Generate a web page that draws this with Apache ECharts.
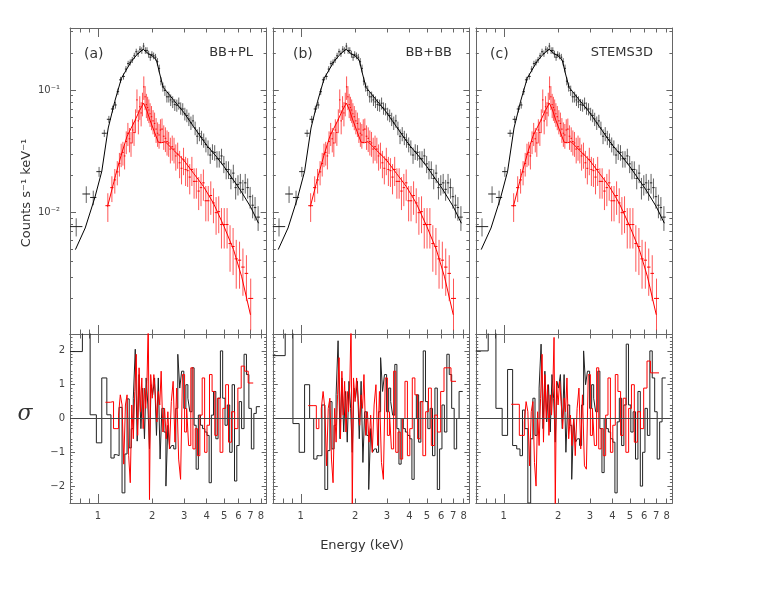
<!DOCTYPE html>
<html>
<head>
<meta charset="utf-8">
<script src="https://cdn.jsdelivr.net/npm/echarts@6/dist/echarts.min.js"></script>
<style>html,body{margin:0;padding:0;background:#fff}#c{width:770px;height:595px}</style>
</head>
<body>
<div id="c"></div>
<script>
// ---------------- DATA ----------------
const panelLabels = ['(a)', '(b)', '(c)'];
const modelNames = ['BB+PL', 'BB+BB', 'STEMS3D'];
const xTickLabels = [1, 2, 3, 4, 5, 6, 7, 8];
const xMinorTicks = [0.7, 0.8, 0.9, 2, 3, 4, 5, 6, 7, 8];
const xMajorTicks = [1];
const yMajorTicks = [0.1, 0.01];
const yMinorTicks = [0.002,0.003,0.004,0.005,0.006,0.007,0.008,0.009,0.02,0.03,0.04,0.05,0.06,0.07,0.08,0.09,0.2,0.3];
const resTicks = [-2, -1, 0, 1, 2];

// black spectrum: bin edges (keV), rate, error (counts/s/keV)
const blackEdges = [0.70,0.82,0.905,0.98,1.05,1.12,1.18,1.23,1.27,1.31,1.36,1.41,1.45,1.49,1.53,1.57,1.61,1.65,1.69,1.73,
  1.77,1.81,1.85,1.89,1.93,1.97,2.01,2.06,2.11,2.16,2.21,2.26,2.32,2.38,2.44,2.50,2.56,2.63,2.70,2.77,
  2.84,2.91,2.99,3.07,3.15,3.23,3.32,3.41,3.50,3.60,3.70,3.80,3.91,4.02,4.13,4.25,4.37,4.50,4.63,4.77,
  4.91,5.06,5.21,5.37,5.54,5.71,5.88,6.06,6.25,6.45,6.65,6.86,7.08,7.31,7.54,7.90];
const blackRate = [0.0077,0.0142,0.0133,0.0216,0.0444,0.0577,0.0700,0.0755,0.0969,0.121,0.129,0.148,0.164,0.168,0.176,0.190,0.205,0.198,0.215,0.210,
  0.228,0.210,0.210,0.196,0.185,0.195,0.190,0.185,0.170,0.150,0.118,0.106,0.099,0.088,0.088,0.083,0.080,0.076,0.075,0.078,
  0.071,0.070,0.064,0.062,0.058,0.054,0.056,0.049,0.042,0.044,0.041,0.039,0.036,0.034,0.0295,0.0315,0.0310,0.0275,0.0275,0.0290,
  0.0250,0.0225,0.0225,0.0190,0.0210,0.0160,0.0170,0.0175,0.0155,0.0175,0.0160,0.0135,0.0115,0.0110,0.0092];
const blackErr = [0.0013,0.0022,0.0018,0.0020,0.0030,0.0038,0.0045,0.0050,0.0060,0.0070,
  0.0075,0.0085,0.0090,0.0095,0.010,0.011,0.012,0.012,0.013,0.013,
  0.014,0.013,0.013,0.013,0.012,0.012,0.012,0.012,0.012,0.011,
  0.009,0.009,0.0095,0.009,0.009,0.009,0.0088,0.0085,0.0085,0.0088,
  0.0082,0.0080,0.0076,0.0074,0.0072,0.0068,0.0068,0.0062,0.0058,0.0058,
  0.0055,0.0052,0.0050,0.0048,0.0045,0.0046,0.0045,0.0042,0.0042,0.0042,
  0.0040,0.0038,0.0037,0.0035,0.0036,0.0032,0.0032,0.0032,0.0030,0.0032,
  0.0030,0.0027,0.0025,0.0024,0.0021];

// red spectrum
const redEdges = [1.10,1.17,1.22,1.26,1.30,1.33,1.36,1.39,1.42,1.45,1.48,1.51,1.54,1.57,1.60,1.63,1.66,1.69,1.72,1.75,
  1.78,1.81,1.84,1.87,1.90,1.93,1.96,2.00,2.04,2.08,2.12,2.16,2.20,2.24,2.29,2.34,2.39,2.44,2.49,2.55,
  2.61,2.67,2.73,2.80,2.87,2.94,3.02,3.10,3.18,3.27,3.36,3.46,3.56,3.67,3.78,3.90,4.02,4.15,4.29,4.44,
  4.59,4.75,4.92,5.10,5.29,5.50,5.72,5.96,6.22,6.50,6.80,7.25];
const redRate = [0.0114,0.0160,0.0185,0.0215,0.0252,0.0300,0.0310,0.0290,0.0380,0.0444,0.0400,0.0370,0.0472,0.0450,0.0570,0.0830,0.0560,0.0730,0.0650,0.0780,
  0.1060,0.0880,0.0760,0.0720,0.0687,0.0640,0.0605,0.0560,0.0534,0.0480,0.0444,0.0430,0.0472,0.0480,0.0420,0.0404,0.0380,0.0370,0.0330,0.0345,
  0.0330,0.0290,0.0300,0.0255,0.0230,0.0270,0.0225,0.0220,0.0195,0.0225,0.0180,0.0180,0.0150,0.0160,0.0175,0.0125,0.0125,0.0138,0.0120,0.0100,
  0.0102,0.0080,0.0080,0.0080,0.0056,0.0053,0.0042,0.0041,0.0036,0.0032,0.0020];
const redErr = [0.0030,0.0038,0.0042,0.0048,0.0055,0.0065,0.0068,0.0065,0.0080,0.0095,
  0.0090,0.0085,0.0105,0.0100,0.0125,0.0180,0.0125,0.0160,0.0145,0.0170,
  0.0230,0.0195,0.0170,0.0160,0.0150,0.0140,0.0135,0.0125,0.0120,0.0110,
  0.0100,0.0098,0.0105,0.0105,0.0095,0.0092,0.0088,0.0085,0.0078,0.0080,
  0.0078,0.0070,0.0072,0.0064,0.0060,0.0068,0.0060,0.0058,0.0054,0.0060,
  0.0050,0.0050,0.0045,0.0047,0.0050,0.0040,0.0040,0.0042,0.0038,0.0034,
  0.0034,0.0029,0.0029,0.0029,0.0023,0.0022,0.0018,0.0017,0.0015,0.0013,0.0009];

// model curves
const blackModelE = [0.75,0.85,0.96,1.05,1.14,1.24,1.35,1.53,1.65,1.78,1.90,2.00,2.11,2.20,2.30,2.40,2.62,2.98,3.39,4.00,4.50,5.00,6.15,7.00,7.76];
const blackModelV = [0.0050,0.0075,0.0132,0.0217,0.049,0.081,0.125,0.171,0.195,0.215,0.198,0.190,0.175,0.135,0.105,0.0975,0.083,0.066,0.0502,0.0355,0.029,0.0237,0.0153,0.0112,0.0082];
const redModelE = [1.13,1.25,1.35,1.45,1.60,1.70,1.79,1.86,1.95,2.05,2.16,2.26,2.36,2.62,2.98,3.39,3.85,4.37,5.00,5.64,6.26,7.00];
const redModelV = [0.0112,0.0200,0.0300,0.0420,0.0560,0.0680,0.0780,0.0690,0.0560,0.0460,0.0375,0.0372,0.0379,0.0324,0.0269,0.0209,0.0163,0.0119,0.0077,0.0050,0.0030,0.00147];

// residuals (sigma), one value per bin
const resBlackA = [1.98,2.8,0.11,-0.72,1.2,0.11,-1.17,-1.07,-1.1,0.33,-2.2,-1.05,0.58,-0.87,-0.3,0.6,2.05,-0.67,1.3,-0.3,
  0.9,-0.6,1.2,0.4,-0.9,1.0,0.7,1.2,-0.5,1.2,-1.2,0.3,-0.4,-2.0,-0.2,-0.9,-0.8,-0.9,0.3,1.9,
  0.9,1.4,0.3,1.0,0.6,0.2,1.5,-0.2,-1.5,0.1,-0.2,-0.3,-0.4,-0.5,-1.9,0.1,0.8,-0.6,0.6,2.0,
  0.6,-0.2,0.4,-1.0,1.0,-1.85,-0.8,0.5,-0.3,1.9,1.3,0.3,-0.9,0.15,0.35];
const resBlackB = [1.86,2.8,-0.15,-1.0,1.0,0.0,-1.2,-1.1,-1.1,0.4,-2.1,-0.95,0.5,-0.9,-0.2,0.7,2.3,-0.6,1.2,-0.4,
  0.8,-0.7,1.1,0.3,-1.0,0.9,0.6,1.1,-0.6,1.1,-1.3,0.2,-0.5,-2.1,-0.3,-1.0,-0.9,-1.0,0.2,1.8,
  0.8,1.3,0.2,0.9,0.5,0.1,1.6,-0.3,-1.35,0.0,-0.3,-0.4,-0.5,-0.6,-1.8,0.0,0.7,-0.7,0.5,2.0,
  0.5,-0.3,0.3,-1.1,0.9,-2.1,-0.9,0.4,-0.4,1.9,1.3,0.3,-0.9,0.0,0.8];
const resBlackC = [2.0,2.8,0.3,-0.5,1.45,-0.8,-0.9,-1.1,0.25,-0.3,-2.5,-0.6,0.6,-0.5,0.0,0.9,2.2,-0.3,1.4,-0.1,
  1.0,-0.4,1.3,0.6,-0.7,1.1,0.9,1.3,-0.3,1.3,-1.0,0.4,-0.2,-1.8,0.0,-0.7,-0.6,-0.8,0.4,2.0,
  1.0,1.4,0.3,1.0,0.6,0.2,1.4,-0.3,-1.6,0.0,-0.3,-0.4,-0.6,-0.7,-2.2,-0.1,0.6,-0.8,0.4,2.2,
  0.4,-0.4,0.2,-1.2,0.8,-2.0,-1.0,0.3,-0.5,2.0,1.2,0.2,-1.2,-0.1,1.2];
const resRedA = [0.48,0.5,-0.3,-0.3,0.1,0.7,0.4,-1.35,0.4,0.7,-1.1,-1.9,0.4,-0.6,0.8,1.9,-0.5,1.5,0.2,1.2,
  -0.3,0.9,0.3,1.1,2.9,-2.4,1.3,0.6,1.3,0.7,-0.1,0.8,0.4,1.4,-0.4,0.3,-0.6,0.2,-0.9,0.5,
  1.1,-0.7,0.9,-1.2,-1.8,1.3,-0.4,0.3,-0.8,1.5,-0.9,-0.3,-1.1,0.1,1.2,-1.0,-0.2,1.3,0.8,-0.5,
  0.6,-1.0,0.3,1.0,-0.7,0.2,-0.3,0.9,1.55,1.4,1.05];
const resRedB = [0.38,0.38,-0.3,0.0,0.3,0.8,0.3,-1.4,0.3,0.6,-1.2,-1.9,0.3,-0.7,0.7,1.8,-0.6,1.4,0.1,1.1,
  -0.4,0.8,0.2,1.0,2.9,-2.6,1.2,0.5,1.2,0.6,-0.2,0.7,0.3,1.3,-0.5,0.2,-0.7,0.1,-1.0,0.4,
  1.0,-0.8,0.8,-1.3,-1.8,1.2,-0.5,0.2,-0.9,1.4,-1.0,-0.4,-1.2,0.0,1.1,-1.1,-0.3,1.2,0.7,-0.6,
  0.5,-1.1,0.2,0.9,-0.8,0.1,-0.4,0.8,1.5,1.5,1.1];
const resRedC = [0.42,0.42,-0.5,-0.5,-0.1,0.5,0.2,-1.4,0.2,0.5,-1.3,-2.0,0.2,-0.8,0.6,1.9,-0.7,1.3,0.0,1.0,
  -0.5,0.7,0.1,0.9,2.4,-2.6,1.1,0.4,1.1,0.5,-0.3,0.6,0.2,1.2,-0.6,0.1,-0.8,0.0,-1.1,0.3,
  0.9,-0.9,0.7,-1.4,-1.5,1.3,-0.5,0.3,-0.8,1.5,-0.9,-0.3,-1.1,0.1,1.2,-1.0,-0.2,1.3,0.8,-0.5,
  0.6,-1.0,0.3,1.0,-0.7,0.2,-0.3,0.9,1.7,1.35,1.35];
const resBlack = [resBlackA, resBlackB, resBlackC];
const resRed = [resRedA, resRedB, resRedC];

// ---------------- LAYOUT / BUILD ----------------
const lg = Math.log10;
const X0 = lg(0.7), X1 = lg(8.6);
const Y0 = -2.989, Y1 = -0.4947;
const lefts = [70, 272.8, 475.8];
const W = 196.6;
const UP_TOP = 28, UP_H = 306, LO_TOP = 334, LO_H = 169;
const AX = '#666';
const FONT = 'DejaVu Sans';
const lblStyle = {fontFamily: FONT, fontSize: 10, color: '#444'};

const grids = [], xAxes = [], yAxes = [], series = [];

function crossData(edges, rate, err) {
  const out = [];
  for (let i = 0; i < rate.length; i++) {
    const lo = edges[i], hi = edges[i + 1];
    out.push([lg(lo), lg(hi), lg(rate[i]), lg(Math.max(rate[i] - err[i], 1e-4)), lg(rate[i] + err[i]), lg(Math.sqrt(lo * hi))]);
  }
  return out;
}
function stepData(edges, res) {
  const out = [];
  for (let i = 0; i < res.length; i++) {
    out.push([lg(edges[i]), res[i]]);
    out.push([lg(edges[i + 1]), res[i]]);
  }
  return out;
}
function curve(E, V) { return E.map((e, i) => [lg(e), lg(V[i])]); }

function makeCross(hColor, vColor, xi, yi, data) {
  return {
    type: 'custom', xAxisIndex: xi, yAxisIndex: yi, data: data, silent: true,
    encode: {x: [0, 1, 5], y: [2, 3, 4]},
    renderItem: function (params, api) {
      const a = api.coord([api.value(0), api.value(2)]);
      const b = api.coord([api.value(1), api.value(2)]);
      const t = api.coord([api.value(5), api.value(4)]);
      const d = api.coord([api.value(5), api.value(3)]);
      return {type: 'group', children: [
        {type: 'line', shape: {x1: t[0], y1: t[1], x2: d[0], y2: d[1]}, style: {stroke: vColor, lineWidth: 1}},
        {type: 'line', shape: {x1: a[0], y1: a[1], x2: b[0], y2: b[1]}, style: {stroke: hColor, lineWidth: 1}}
      ]};
    }
  };
}

function xAxis(grid, pos, ticks, len, withLabels, withLine) {
  xAxes.push({
    type: 'value', gridIndex: grid, position: pos, min: X0, max: X1,
    axisLine: {show: withLine, onZero: false, lineStyle: {color: AX, width: 1}},
    axisTick: {show: true, inside: true, length: len, customValues: ticks.map(lg), lineStyle: {color: AX}},
    axisLabel: withLabels ? Object.assign({show: true, margin: 8, customValues: xTickLabels.map(lg),
      formatter: v => String(Math.round(Math.pow(10, v)))}, lblStyle) : {show: false},
    splitLine: {show: false}
  });
  return xAxes.length - 1;
}
function yAxisUp(grid, pos, ticks, len, withLabels, withLine) {
  yAxes.push({
    type: 'value', gridIndex: grid, position: pos, min: Y0, max: Y1,
    axisLine: {show: withLine, onZero: false, lineStyle: {color: AX, width: 1}},
    axisTick: {show: true, inside: true, length: len, customValues: ticks.map(lg), lineStyle: {color: AX}},
    axisLabel: withLabels ? Object.assign({show: true, margin: 10, customValues: yMajorTicks.map(lg),
      formatter: v => '10' + (Math.round(v) === -1 ? '\u207B\u00B9' : '\u207B\u00B2')}, lblStyle) : {show: false},
    splitLine: {show: false}
  });
  return yAxes.length - 1;
}
function yAxisLo(grid, pos, withLabels) {
  yAxes.push({
    type: 'value', gridIndex: grid, position: pos, min: -2.5, max: 2.5, interval: 0.5,
    axisLine: {show: true, onZero: false, lineStyle: {color: AX, width: 1}},
    axisTick: {show: true, inside: true, length: 5, customValues: resTicks, lineStyle: {color: AX}},
    minorTick: {show: true, splitNumber: 5, length: 2.5, lineStyle: {color: AX}},
    axisLabel: withLabels ? Object.assign({show: true, margin: 5, customValues: resTicks,
      formatter: v => (v < 0 ? '\u2212' + (-v) : String(v))}, lblStyle) : {show: false},
    splitLine: {show: false}
  });
  return yAxes.length - 1;
}

for (let p = 0; p < 3; p++) {
  const gU = grids.length;
  grids.push({left: lefts[p], top: UP_TOP, width: W, height: UP_H});
  const gL = grids.length;
  grids.push({left: lefts[p], top: LO_TOP, width: W, height: LO_H});

  // upper panel axes
  const xu = xAxis(gU, 'bottom', xMajorTicks, 9, false, true);
  xAxis(gU, 'bottom', xMinorTicks, 4.5, false, false);
  xAxis(gU, 'top', xMajorTicks, 9, false, true);
  xAxis(gU, 'top', xMinorTicks, 4.5, false, false);
  const yu = yAxisUp(gU, 'left', yMajorTicks, 6, p === 0, true);
  yAxisUp(gU, 'left', yMinorTicks, 3, false, false);
  yAxisUp(gU, 'right', yMajorTicks, 6, false, true);
  yAxisUp(gU, 'right', yMinorTicks, 3, false, false);

  // lower panel axes
  const xl = xAxis(gL, 'bottom', xMajorTicks, 9, true, true);
  xAxis(gL, 'bottom', xMinorTicks, 4.5, false, false);
  xAxis(gL, 'top', xMajorTicks, 9, false, true);
  xAxis(gL, 'top', xMinorTicks, 4.5, false, false);
  const yl = yAxisLo(gL, 'left', p === 0);
  yAxisLo(gL, 'right', false);

  // spectra
  series.push(makeCross('#222', 'rgba(70,70,70,0.85)', xu, yu, crossData(blackEdges, blackRate, blackErr)));
  series.push({type: 'line', xAxisIndex: xu, yAxisIndex: yu, data: curve(blackModelE, blackModelV),
    showSymbol: false, symbol: 'none', silent: true, lineStyle: {color: '#000', width: 1}});
  series.push(makeCross('#ff0000', 'rgba(255,30,30,0.75)', xu, yu, crossData(redEdges, redRate, redErr)));
  series.push({type: 'line', xAxisIndex: xu, yAxisIndex: yu, data: curve(redModelE, redModelV),
    showSymbol: false, symbol: 'none', silent: true, lineStyle: {color: '#ff0000', width: 1}});

  // residuals
  series.push({type: 'line', xAxisIndex: xl, yAxisIndex: yl, data: stepData(blackEdges, resBlack[p]),
    showSymbol: false, symbol: 'none', silent: true, clip: true, lineStyle: {color: '#222', width: 1},
    markLine: {silent: true, symbol: 'none', label: {show: false}, animation: false,
      lineStyle: {color: '#444', width: 1, type: 'solid'}, data: [{yAxis: 0}]}});
  series.push({type: 'line', xAxisIndex: xl, yAxisIndex: yl, data: stepData(redEdges, resRed[p]),
    showSymbol: false, symbol: 'none', silent: true, clip: true, lineStyle: {color: '#ff0000', width: 1}});
}

const graphics = [];
const labelX = [84, 293, 490];
const nameRight = [253, 452, 653];
for (let p = 0; p < 3; p++) {
  graphics.push({type: 'text', x: labelX[p], y: 54, silent: true,
    style: {text: panelLabels[p], font: '14px ' + FONT, fill: '#333', textAlign: 'left', textVerticalAlign: 'middle', align: 'left', verticalAlign: 'middle'}});
  graphics.push({type: 'text', x: nameRight[p], y: 53, silent: true,
    style: {text: modelNames[p], font: '13px ' + FONT, fill: '#333', textAlign: 'right', textVerticalAlign: 'middle', align: 'right', verticalAlign: 'middle'}});
}
graphics.push({type: 'text', x: 27, y: 193, rotation: Math.PI / 2, silent: true,
  style: {text: 'Counts s\u207B\u00B9 keV\u207B\u00B9', font: '13px ' + FONT, fill: '#333', textAlign: 'center', textVerticalAlign: 'middle', align: 'center', verticalAlign: 'middle'}});
graphics.push({type: 'text', x: 25, y: 414, silent: true,
  style: {text: '\u03C3', font: 'italic 22px DejaVu Serif', fill: '#333', textAlign: 'center', textVerticalAlign: 'middle', align: 'center', verticalAlign: 'middle'}});
graphics.push({type: 'text', x: 362, y: 546, silent: true,
  style: {text: 'Energy (keV)', font: '13px ' + FONT, fill: '#333', textAlign: 'center', textVerticalAlign: 'middle', align: 'center', verticalAlign: 'middle'}});

const chart = echarts.init(document.getElementById('c'), null, {renderer: 'canvas'});
chart.setOption({
  animation: false,
  backgroundColor: '#fff',
  grid: grids,
  xAxis: xAxes,
  yAxis: yAxes,
  series: series,
  graphic: graphics
});
</script>
</body>
</html>
